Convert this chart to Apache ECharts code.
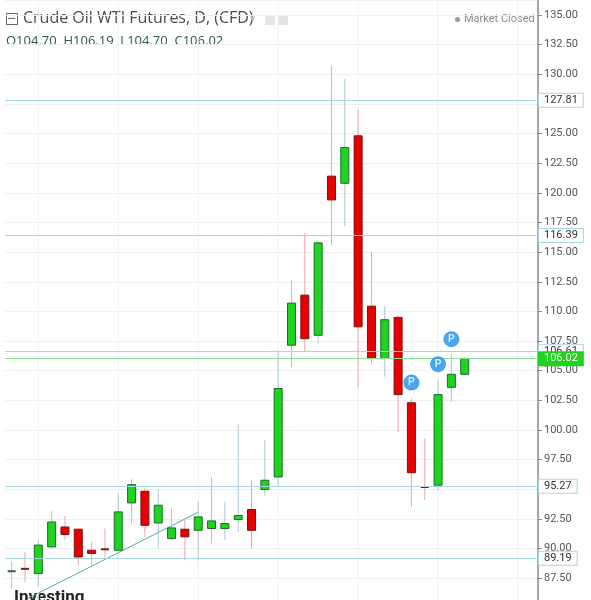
<!DOCTYPE html>
<html><head><meta charset="utf-8">
<script src="https://cdn.jsdelivr.net/npm/echarts@6/dist/echarts.min.js"></script>
<style>html,body{margin:0;padding:0;background:#fff}#c{width:591px;height:600px}</style>
</head><body><div id="c"></div>
<script>
const opens  = [88.1,88.3,87.9,90.15,91.83,91.64,89.87,89.95,89.87,93.86,94.84,92.17,90.85,91.64,91.55,91.7,91.7,92.45,93.3,94.98,96.05,107.15,111.37,107.99,121.4,120.8,124.8,110.44,106.03,109.5,102.3,95.2,95.35,103.6,104.7];
const closes = [88.1,88.2,90.3,92.25,91.2,89.3,89.6,89.9,93.1,95.4,91.97,93.66,91.75,91.0,92.68,92.34,92.12,92.8,91.55,95.77,103.5,110.7,107.7,115.78,119.4,123.82,108.7,106.03,109.3,102.99,96.4,95.05,102.99,104.7,106.02];
const lows   = [86.6,87.2,86.8,90.0,90.77,88.6,88.6,89.2,89.8,92.06,91.0,90.0,90.8,89.0,89.0,90.45,90.7,91.4,90.0,94.5,95.2,105.3,106.6,107.3,115.6,117.2,103.6,105.6,104.5,99.84,93.52,94.1,94.9,102.4,104.7];
const highs  = [88.9,89.7,90.7,93.2,92.76,91.7,90.6,91.7,94.67,95.85,95.1,95.0,93.4,92.56,93.94,96.05,93.94,100.55,95.77,99.14,106.7,112.63,116.6,116.0,130.7,129.6,127.0,115.0,110.4,109.68,102.66,99.3,104.26,106.4,106.19];
const levels = [127.81,116.39,106.61,95.27,89.19];
const lastPrice = 106.02;
const pMarks = [[30,104.0],[32,105.55],[33,107.66]];
const trend = [[1.2,85.8],[14.0,93.07]];
const vGrid = [2,8,14,20,26,32,38];
const nSlots = 40;
const cats = Array.from({length:nSlots},(_,i)=>String(i));
const candleData = opens.map((o,i)=>[i,o,closes[i],lows[i],highs[i]]);

const chart = echarts.init(document.getElementById('c'));
chart.setOption({
  animation:false,
  grid:{left:5,top:0,width:533,height:608,containLabel:false,outerBoundsMode:'none'},
  xAxis:[
    {type:'category',data:cats,boundaryGap:true,show:false},
    {type:'value',min:-0.5,max:nSlots-0.5,show:false}
  ],
  yAxis:{type:'value',position:'right',min:85,max:136.25,interval:2.5,
    axisLine:{show:true,onZero:false,lineStyle:{color:'#8a8a8a',width:1.5}},
    axisTick:{show:true,length:4,lineStyle:{color:'#8a8a8a'}},
    axisLabel:{color:'#555',fontSize:11,fontFamily:'Roboto',formatter:v=>v.toFixed(2),margin:6,showMaxLabel:false,showMinLabel:false},
    splitLine:{lineStyle:{color:'#eef1f4'}}},
  series:[
    {type:'custom',xAxisIndex:1,data:vGrid.map(v=>[v,100]),encode:{x:0,y:1},silent:true,z:0,
     renderItem:function(params,api){
       const x=api.coord([api.value(0),100])[0];
       return {type:'line',shape:{x1:x,y1:0,x2:x,y2:600},style:{stroke:'#eef1f4',lineWidth:1}};
     }},
    {type:'line',xAxisIndex:1,data:trend,symbol:'none',lineStyle:{color:'#4fa8a8',width:1},silent:true,z:1},
    {type:'custom',data:candleData,encode:{x:0,y:[3,4]},z:3,silent:true,
     renderItem:function(params,api){
       const i=api.value(0),o=api.value(1),c=api.value(2),l=api.value(3),h=api.value(4);
       const up=c>=o;
       const pH=api.coord([i,h]),pL=api.coord([i,l]),pO=api.coord([i,o]),pC=api.coord([i,c]);
       const w=api.size([1,0])[0]*0.6;
       let top=Math.min(pO[1],pC[1]),hgt=Math.max(Math.abs(pO[1]-pC[1]),2);
       const doji=Math.abs(pO[1]-pC[1])<2;
       return {type:'group',children:[
         {type:'line',shape:{x1:pH[0],y1:pH[1],x2:pL[0],y2:pL[1]},style:{stroke:up?'#a9c6d2':'#f2a3a8',lineWidth:1}},
         {type:'rect',shape:{x:pO[0]-w/2,y:top-(doji?1:0),width:w,height:hgt},
          style:{fill:doji?(up?'#3b5e45':'#7a1a1a'):(up?'#1ed41e':'#e80000'),stroke:doji?null:(up?'#1d6a2a':'#7a1010'),lineWidth:1}}
       ]};
     }},
    {type:'line',data:[],markLine:{silent:true,symbol:'none',
      data:levels.map(v=>({yAxis:v,lineStyle:{color:'#a9d6e3',width:1,type:'solid'},
        label:{show:true,position:'end',distance:1,formatter:v.toFixed(2),color:'#333',fontSize:11,fontFamily:'Roboto',
          backgroundColor:'#fff',borderColor:'#a9d6e3',borderWidth:1,padding:[1,5]}}))
       .concat([{yAxis:lastPrice,lineStyle:{color:'#8fe08f',width:1,type:'solid'},
        label:{show:true,position:'end',distance:1,formatter:lastPrice.toFixed(2),color:'#fff',fontSize:11,fontFamily:'Roboto',
          backgroundColor:'#1ed41e',borderColor:'#1ed41e',borderWidth:1,padding:[1,5]}}])}},
    {type:'scatter',data:pMarks,symbolSize:16,itemStyle:{color:'#1e8fe8'},z:5,
     label:{show:true,position:'inside',formatter:'P',color:'#fff',fontSize:10,fontWeight:'bold'}}
  ],
  graphic:[
    {type:'rect',left:6,top:13,shape:{width:11,height:11},style:{fill:'#fff',stroke:'#666',lineWidth:1}},
    {type:'rect',left:8,top:18,shape:{width:7,height:1},style:{fill:'#666'}},
    {type:'text',left:23,top:10,style:{text:'Crude Oil WTI Futures, D, (CFD)',fontSize:16,fill:'#4a4a4a',fontFamily:'Open Sans'}},
    {type:'text',left:250,top:13,style:{text:'▾',fontSize:11,fill:'#bbb'}},
    {type:'rect',left:265,top:15,shape:{width:10,height:10},style:{fill:'#e4e4e4'}},
    {type:'rect',left:278,top:15,shape:{width:10,height:10},style:{fill:'#e4e4e4'}},
    {type:'circle',left:455,top:17,shape:{r:2.5},style:{fill:'#999'}},
    {type:'text',left:464,top:14,style:{text:'Market Closed',fontSize:11,fill:'#888',fontFamily:'Roboto'}},
    {type:'text',left:6,top:35,style:{text:'O104.70  H106.19  L104.70  C106.02',fontSize:13,fill:'#2b5a3a',fontFamily:'Open Sans'}},
    {type:'text',left:14,top:589,style:{text:'Investing',fontSize:17,fontWeight:'bold',fill:'#222',fontFamily:'Roboto'}}
  ]
});
</script></body></html>
